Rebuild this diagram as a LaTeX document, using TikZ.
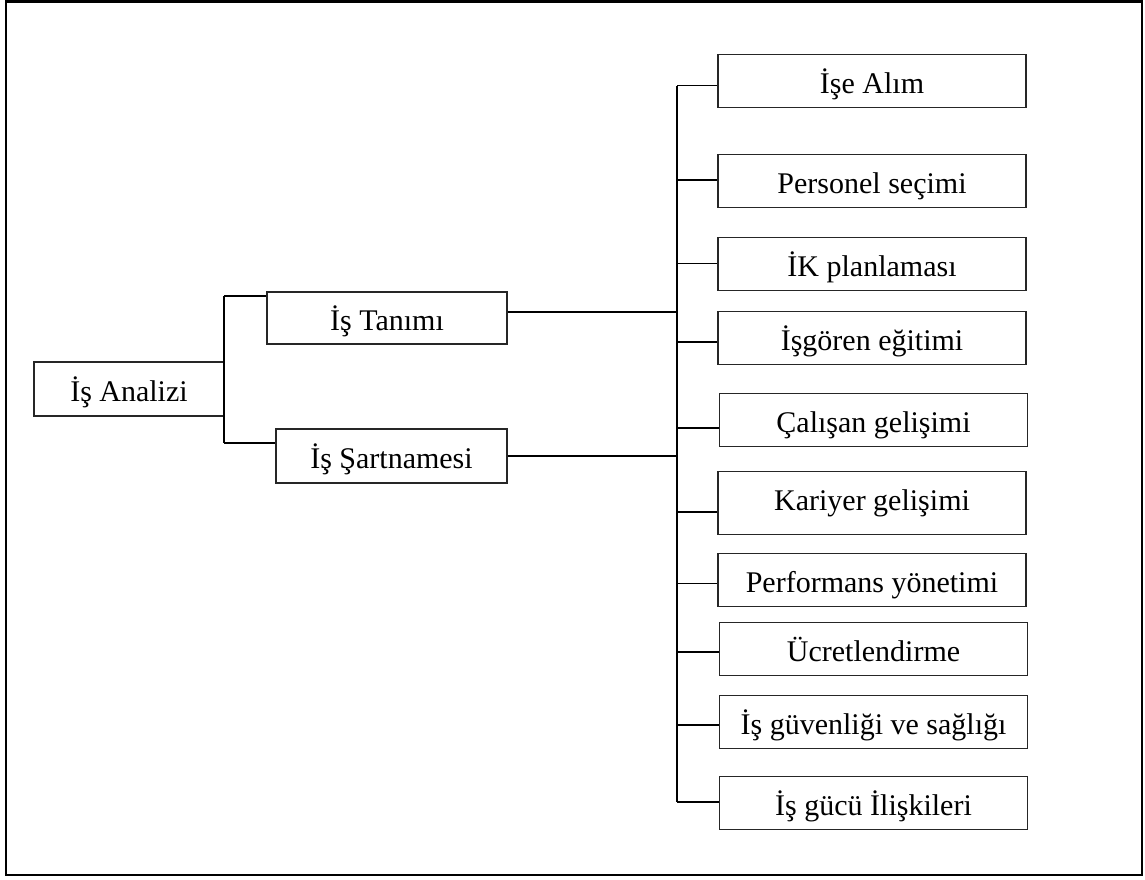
\documentclass[tikz,border=0pt]{standalone}
\usepackage{fontspec}
\setmainfont{Liberation Serif}
\begin{document}
\begin{tikzpicture}[x=1pt, y=-1pt,
	box/.style={rectangle, draw=black!85, line width=1.1pt, inner sep=0pt, text height=27pt, text depth=3pt, font=\fontsize{30}{35}\selectfont},
	useBox/.style={box, minimum width=308pt, minimum height=53pt},
	link/.style={line width=1.6pt, draw=black}]
	\useasboundingbox (0,0) rectangle (1145,880);
	\draw[line width=2.6pt](6,1.5) rectangle (1142,875);

	\node[box, minimum width=190pt, minimum height=54pt](analizBox) at (129,389){İş Analizi};
	\node[box, minimum width=240pt, minimum height=52pt](tanimBox) at (387,318){İş Tanımı};
	\node[box, minimum width=231pt, minimum height=54pt](sartBox) at (391.5,456){İş Şartnamesi};

	\node[useBox](iseAlimBox) at (872,81.2){İşe Alım};
	\node[useBox](personelBox) at (872,181.2){Personel seçimi};
	\node[useBox](ikPlanBox) at (872,264.2){İK planlaması};
	\node[useBox](isgorenBox) at (872,338.3){İşgören eğitimi};
	\node[useBox](calisanBox) at (873.5,420){Çalışan gelişimi};
	\node[useBox, minimum height=63pt, text depth=13pt](kariyerBox) at (872,503.3){Kariyer gelişimi};
	\node[useBox](performansBox) at (872,580){Performans yönetimi};
	\node[useBox](ucretBox) at (873.5,649){Ücretlendirme};
	\node[useBox](guvenlikBox) at (873.5,722.3){İş güvenliği ve sağlığı};
	\node[useBox](isgucuBox) at (873.5,803){İş gücü İlişkileri};

	% joints on the left bracket
	\coordinate (jTop) at (224,296);
	\coordinate (jBot) at (224,443);

	% joints on the trunk
	\coordinate (jTanim) at (677,312);
	\coordinate (jSart) at (677,456);
	\coordinate (jIseAlim) at (677,85.7);
	\coordinate (jPersonel) at (677,180);
	\coordinate (jIkPlan) at (677,263.3);
	\coordinate (jIsgoren) at (677,342);
	\coordinate (jCalisan) at (677,427.7);
	\coordinate (jKariyer) at (677,511.7);
	\coordinate (jPerformans) at (677,583.3);
	\coordinate (jUcret) at (677,651.7);
	\coordinate (jGuvenlik) at (677,725);
	\coordinate (jIsgucu) at (677,801.7);

	% draw left bracket
	\draw[link] (jTop) -- (jBot);
	\draw[link] (jTop) -- (jTop -| tanimBox.west);
	\draw[link] (jBot) -- (jBot -| sartBox.west);

	% draw trunk
	\draw[link] (jIseAlim) -- (jIsgucu);
	\draw[link] (jTanim -| tanimBox.east) -- (jTanim);
	\draw[link] (jSart -| sartBox.east) -- (jSart);

	% draw branch edges
	\draw[link] (jIseAlim) -- (jIseAlim -| iseAlimBox.west);
	\draw[link] (jPersonel) -- (jPersonel -| personelBox.west);
	\draw[link] (jIkPlan) -- (jIkPlan -| ikPlanBox.west);
	\draw[link] (jIsgoren) -- (jIsgoren -| isgorenBox.west);
	\draw[link] (jCalisan) -- (jCalisan -| calisanBox.west);
	\draw[link] (jKariyer) -- (jKariyer -| kariyerBox.west);
	\draw[link] (jPerformans) -- (jPerformans -| performansBox.west);
	\draw[link] (jUcret) -- (jUcret -| ucretBox.west);
	\draw[link] (jGuvenlik) -- (jGuvenlik -| guvenlikBox.west);
	\draw[link] (jIsgucu) -- (jIsgucu -| isgucuBox.west);

\end{tikzpicture}
\end{document}
